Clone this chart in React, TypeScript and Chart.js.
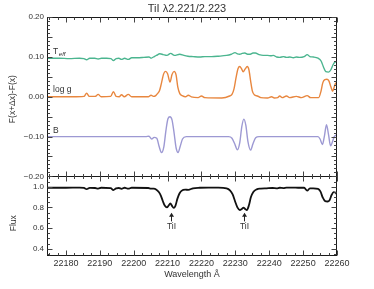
import React, { useEffect, useRef } from "react";
import { Chart, registerables } from "chart.js";
Chart.register(...registerables);

const titleText = "TiI λ2.221/2.223";
const xTitle = "Wavelength Å";
const yTopTitle = "F(x+Δx)-F(x)";
const yBotTitle = "Flux";

const xMin = 22174.4;
const xMax = 22260;
const xTickStep = 10;
const yTopRange = [-0.2, 0.2];
const yTopStep = 0.05;
const yBotRange = [0.33, 1.1];
const yBotStep = 0.2;

const teffWave = [22174.4, 22178, 22181, 22184, 22185.3, 22186.1, 22187, 22188.5, 22189.5, 22190.5, 22192, 22193.3, 22194.0, 22194.8, 22195.6, 22196.4, 22197.3, 22198.4, 22199.4, 22201, 22203, 22204.5, 22205.1, 22205.8, 22206.7, 22207.7, 22208.7, 22209.8, 22210.9, 22212.0, 22213.6, 22214.8, 22216, 22217.5, 22219.5, 22221, 22223, 22225, 22227.4, 22228.8, 22229.9, 22230.6, 22231.3, 22232.0, 22232.8, 22233.6, 22234.4, 22235.2, 22235.9, 22237, 22238.2, 22239.5, 22240.5, 22241.2, 22242.2, 22243.1, 22244.2, 22245.1, 22246.1, 22247.1, 22248.0, 22249.0, 22250.3, 22251.2, 22252.0, 22253, 22254.4, 22255.3, 22256.0, 22256.7, 22257.5, 22258.2, 22258.8, 22259.4, 22260];
const teffVal = [0.097, 0.097, 0.096, 0.097, 0.096, 0.093, 0.097, 0.097, 0.095, 0.097, 0.097, 0.096, 0.091, 0.096, 0.097, 0.094, 0.097, 0.094, 0.098, 0.098, 0.099, 0.100, 0.097, 0.100, 0.104, 0.108, 0.106, 0.104, 0.109, 0.104, 0.107, 0.104, 0.102, 0.101, 0.100, 0.101, 0.101, 0.102, 0.104, 0.107, 0.111, 0.108, 0.107, 0.109, 0.110, 0.107, 0.107, 0.110, 0.110, 0.106, 0.104, 0.104, 0.103, 0.104, 0.100, 0.099, 0.101, 0.099, 0.100, 0.098, 0.100, 0.099, 0.101, 0.106, 0.101, 0.100, 0.097, 0.090, 0.075, 0.063, 0.062, 0.068, 0.080, 0.087, 0.088];

const loggWave = [22174.4, 22182, 22185.3, 22186.1, 22186.9, 22188.6, 22189.5, 22190.4, 22193.2, 22194.0, 22194.8, 22195.7, 22196.4, 22197.2, 22198.4, 22199.4, 22204.3, 22205.1, 22205.8, 22206.5, 22207.0, 22207.6, 22208.2, 22208.8, 22209.4, 22210.0, 22210.7, 22211.3, 22211.9, 22212.5, 22213.0, 22213.6, 22214.3, 22215.3, 22216.1, 22217, 22219, 22220.0, 22221, 22226, 22228.3, 22229.0, 22229.6, 22230.2, 22230.8, 22231.3, 22231.8, 22232.3, 22232.9, 22233.5, 22234.0, 22234.5, 22235.0, 22235.6, 22236.5, 22237.5, 22239.5, 22240.7, 22241.5, 22242.5, 22243.1, 22243.8, 22245.1, 22246, 22248.0, 22249.5, 22251.2, 22252.2, 22254.6, 22255.3, 22255.8, 22256.4, 22257.0, 22257.6, 22258.2, 22258.7, 22259.2, 22259.6, 22260];
const loggVal = [0.000, 0.000, 0.001, 0.009, 0.001, 0.001, 0.006, 0.000, 0.001, 0.013, 0.001, 0.000, 0.005, 0.000, 0.006, 0.000, 0.000, 0.004, 0.001, 0.003, 0.008, 0.015, 0.035, 0.057, 0.064, 0.058, 0.037, 0.056, 0.064, 0.055, 0.025, 0.008, 0.003, 0.000, 0.004, 0.000, -0.002, 0.002, -0.002, -0.003, 0.002, 0.006, 0.020, 0.048, 0.071, 0.076, 0.071, 0.063, 0.070, 0.076, 0.068, 0.040, 0.015, 0.005, 0.002, -0.002, -0.003, 0.000, -0.003, -0.002, 0.002, -0.002, 0.002, -0.002, 0.001, -0.002, 0.003, -0.002, -0.002, 0.015, 0.035, 0.043, 0.044, 0.040, 0.025, 0.014, 0.025, 0.035, 0.028];

const bWave = [22174.4, 22203.5, 22204.5, 22205.3, 22206.0, 22206.8, 22207.5, 22208.2, 22208.9, 22209.5, 22210.1, 22210.7, 22211.3, 22211.9, 22212.5, 22213.1, 22213.7, 22214.4, 22215.5, 22228.0, 22229.0, 22229.8, 22230.6, 22231.3, 22231.9, 22232.5, 22233.1, 22233.7, 22234.5, 22235.2, 22236.0, 22237.0, 22254.4, 22255.0, 22255.7, 22256.3, 22256.9, 22257.5, 22258.1, 22258.7, 22259.2, 22260];
const bVal = [-0.100, -0.100, -0.099, -0.106, -0.102, -0.104, -0.125, -0.140, -0.125, -0.085, -0.055, -0.050, -0.058, -0.090, -0.128, -0.140, -0.125, -0.106, -0.100, -0.100, -0.104, -0.118, -0.133, -0.115, -0.075, -0.056, -0.072, -0.112, -0.134, -0.118, -0.103, -0.100, -0.100, -0.106, -0.120, -0.098, -0.070, -0.095, -0.123, -0.112, -0.100, -0.095];

const fluxWave = [22174.4, 22180, 22184, 22185.3, 22186.1, 22187, 22188.6, 22189.5, 22190.4, 22193.2, 22194.0, 22194.8, 22195.6, 22196.4, 22197.3, 22198.4, 22199.4, 22204.3, 22205.1, 22205.9, 22206.7, 22207.4, 22208.0, 22208.6, 22209.2, 22209.8, 22210.3, 22210.8, 22211.3, 22211.8, 22212.3, 22212.9, 22213.5, 22214.1, 22215.2, 22216.1, 22217.5, 22219.5, 22222, 22225, 22227.4, 22228.4, 22229.2, 22229.9, 22230.6, 22231.3, 22231.9, 22232.4, 22232.9, 22233.4, 22234.0, 22234.6, 22235.3, 22236.3, 22237.5, 22239.2, 22241, 22242.2, 22243.1, 22244.2, 22245.1, 22247, 22248.5, 22250.3, 22251.2, 22252.0, 22253, 22254.4, 22255.1, 22255.8, 22256.5, 22257.2, 22257.8, 22258.4, 22259.0, 22259.5, 22260];
const fluxVal = [0.990, 0.990, 0.992, 0.988, 0.976, 0.989, 0.988, 0.982, 0.990, 0.986, 0.968, 0.985, 0.988, 0.980, 0.990, 0.981, 0.990, 0.988, 0.982, 0.982, 0.972, 0.950, 0.915, 0.860, 0.815, 0.800, 0.818, 0.840, 0.815, 0.795, 0.815, 0.885, 0.935, 0.960, 0.972, 0.970, 0.985, 0.990, 0.992, 0.992, 0.985, 0.965, 0.925, 0.860, 0.800, 0.775, 0.785, 0.798, 0.785, 0.775, 0.820, 0.900, 0.950, 0.975, 0.982, 0.985, 0.988, 0.985, 0.990, 0.987, 0.992, 0.992, 0.990, 0.990, 0.962, 0.985, 0.985, 0.980, 0.955, 0.895, 0.860, 0.857, 0.870, 0.920, 0.948, 0.945, 0.925];

// annotations
const seriesLabelX = 22176.2;
const teffLabelY = 0.114;
const loggLabelY = 0.0175;
const bLabelY = -0.084;
const arrowWave = [22210.9, 22232.6];
const arrowTip = 0.749;
const arrowTail = 0.665;
const arrowLabelY = 0.616;
const arrowLabel = "TiI";

const FONT = "'Liberation Sans', Arial, Helvetica, sans-serif";
const TEXT = "#333";

const toPts = (w: number[], v: number[]) => w.map((x, i) => ({ x, y: v[i] }));

const framePlugin = {
  id: "frame",
  afterDatasetsDraw(chart: any) {
    const { ctx, chartArea: a, scales } = chart;
    const xs = scales.x, yt = scales.yTop, yb = scales.yBot;
    ctx.save();
    ctx.strokeStyle = "#1a1a1a";
    ctx.lineWidth = 1;
    const L = Math.round(a.left) + 0.5;
    const R = Math.round(a.right) - 0.5;
    const T = Math.round(a.top) + 0.5;
    const B = Math.round(a.bottom) - 0.5;
    const M = Math.round(yt.bottom) + 0.5;
    ctx.strokeRect(L, T, R - L, B - T);
    ctx.beginPath();
    ctx.moveTo(L, M);
    ctx.lineTo(R, M);
    ctx.stroke();
    ctx.strokeStyle = "#444";
    ctx.beginPath();
    const xm = 2.5;
    for (let v = Math.ceil(xs.min / xm) * xm; v <= xs.max + 1e-6; v += xm) {
      const px = Math.round(xs.getPixelForValue(v)) + 0.5;
      const major = Math.abs(v / xTickStep - Math.round(v / xTickStep)) < 1e-6;
      const len = major ? 5 : 2.5;
      ctx.moveTo(px, B); ctx.lineTo(px, B - len);
      ctx.moveTo(px, T); ctx.lineTo(px, T + len);
      ctx.moveTo(px, M - len); ctx.lineTo(px, M + len);
    }
    const yTicks = (sc: any, step: number, minor: number) => {
      const n0 = Math.ceil(sc.min / minor - 1e-6);
      const n1 = Math.floor(sc.max / minor + 1e-6);
      for (let n = n0; n <= n1; n++) {
        const v = n * minor;
        const py = Math.round(sc.getPixelForValue(v)) + 0.5;
        const major = Math.abs(v / step - Math.round(v / step)) < 1e-6;
        const len = major ? 5 : 2.5;
        ctx.moveTo(L, py); ctx.lineTo(L + len, py);
        ctx.moveTo(R, py); ctx.lineTo(R - len, py);
      }
    };
    yTicks(yt, yTopStep, 0.01);
    yTicks(yb, yBotStep, 0.05);
    ctx.stroke();
    ctx.restore();
  },
};

const notePlugin = {
  id: "notes",
  afterDatasetsDraw(chart: any) {
    const { ctx, scales } = chart;
    const xs = scales.x, yt = scales.yTop, yb = scales.yBot;
    ctx.save();
    ctx.fillStyle = TEXT;
    ctx.textBaseline = "middle";
    ctx.textAlign = "left";
    const lx = xs.getPixelForValue(seriesLabelX);
    ctx.font = `8.5px ${FONT}`;
    const ty = yt.getPixelForValue(teffLabelY);
    ctx.fillText("T", lx, ty);
    const tw = ctx.measureText("T").width;
    ctx.font = `italic 6px ${FONT}`;
    ctx.fillText("eff", lx + tw + 0.5, ty + 2.5);
    ctx.font = `8.5px ${FONT}`;
    ctx.fillText("log g", lx, yt.getPixelForValue(loggLabelY));
    ctx.fillText("B", lx, yt.getPixelForValue(bLabelY));
    ctx.strokeStyle = "#222";
    ctx.fillStyle = "#222";
    ctx.lineWidth = 1;
    ctx.textAlign = "center";
    ctx.font = `8.5px ${FONT}`;
    arrowWave.forEach((w) => {
      const px = Math.round(xs.getPixelForValue(w)) + 0.5;
      const tip = yb.getPixelForValue(arrowTip);
      const tail = yb.getPixelForValue(arrowTail);
      ctx.beginPath();
      ctx.moveTo(px, tail);
      ctx.lineTo(px, tip + 1);
      ctx.stroke();
      ctx.beginPath();
      ctx.moveTo(px, tip);
      ctx.lineTo(px - 2.5, tip + 4);
      ctx.lineTo(px + 2.5, tip + 4);
      ctx.closePath();
      ctx.fill();
      ctx.fillStyle = TEXT;
      ctx.fillText(arrowLabel, px, yb.getPixelForValue(arrowLabelY));
      ctx.fillStyle = "#222";
    });
    ctx.restore();
  },
};

export default function App() {
  const ref = useRef<HTMLCanvasElement | null>(null);
  useEffect(() => {
    if (!ref.current) return;
    const lineDs = (label: string, data: any[], color: string, axis: string, width: number) => ({
      label,
      data,
      borderColor: color,
      backgroundColor: color,
      borderWidth: width,
      pointRadius: 0,
      cubicInterpolationMode: "monotone" as const,
      yAxisID: axis,
      fill: false,
    });
    const chart = new Chart(ref.current, {
      type: "line",
      data: {
        datasets: [
          lineDs("Teff", toPts(teffWave, teffVal), "#4bb58f", "yTop", 1.4),
          lineDs("log g", toPts(loggWave, loggVal), "#e8873f", "yTop", 1.4),
          lineDs("B", toPts(bWave, bVal), "#9d99d3", "yTop", 1.4),
          lineDs("Flux", toPts(fluxWave, fluxVal), "#111111", "yBot", 1.8),
        ],
      },
      options: {
        animation: false,
        responsive: false,
        devicePixelRatio: 1,
        layout: { padding: 0 },
        plugins: {
          legend: { display: false },
          tooltip: { enabled: false },
          title: {
            display: true,
            text: titleText,
            color: TEXT,
            font: { family: FONT, size: 11, weight: "normal" },
            padding: { top: 2, bottom: 2 },
          },
        },
        scales: {
          x: {
            type: "linear",
            position: "bottom",
            min: xMin,
            max: xMax,
            grid: { display: false, drawTicks: false },
            border: { display: false },
            ticks: {
              stepSize: xTickStep,
              includeBounds: false,
              autoSkip: false,
              maxRotation: 0,
              padding: 2,
              color: TEXT,
              font: { family: FONT, size: 9 },
              callback: (v: any) => String(v),
            },
            title: {
              display: true,
              text: xTitle,
              color: TEXT,
              font: { family: FONT, size: 9 },
              padding: { top: 0, bottom: 8.6 },
            },
            afterFit: (s: any) => { s.height = 33; },
          },
          yBot: {
            type: "linear",
            position: "left",
            stack: "panels",
            stackWeight: 1,
            min: yBotRange[0],
            max: yBotRange[1],
            grid: { display: false, drawTicks: false },
            border: { display: false },
            ticks: {
              stepSize: yBotStep,
              includeBounds: false,
              padding: 3,
              color: TEXT,
              font: { family: FONT, size: 8 },
              callback: (v: any) => Number(v).toFixed(1),
            },
            title: {
              display: true,
              text: yBotTitle + "\u00A0".repeat(6),
              color: TEXT,
              font: { family: FONT, size: 8.5 },
              padding: { top: 9, bottom: 0 },
            },
            afterFit: (s: any) => { s.width = 47; },
          },
          yTop: {
            type: "linear",
            position: "left",
            stack: "panels",
            stackWeight: 2,
            min: yTopRange[0],
            max: yTopRange[1],
            grid: { display: false, drawTicks: false },
            border: { display: false },
            ticks: {
              stepSize: yTopStep,
              includeBounds: false,
              padding: 3,
              color: TEXT,
              font: { family: FONT, size: 8 },
              callback: (v: any) => Number(v).toFixed(2).replace("-", "−"),
            },
            title: {
              display: true,
              text: yTopTitle + "\u00A0".repeat(2),
              color: TEXT,
              font: { family: FONT, size: 8.5 },
              padding: { top: 8, bottom: 0 },
            },
            afterFit: (s: any) => { s.width = 47; },
          },
          yRight: {
            type: "linear",
            position: "right",
            display: true,
            grid: { display: false, drawTicks: false },
            border: { display: false },
            ticks: { display: false },
            afterFit: (s: any) => { s.width = 37; },
          },
        },
      } as any,
      plugins: [framePlugin, notePlugin],
    });
    return () => chart.destroy();
  }, []);
  return (
    <div style={{ position: "fixed", left: 0, top: 0, width: 374, height: 289, background: "#fff" }}>
      <canvas ref={ref} width={374} height={289} style={{ width: 374, height: 289, display: "block" }} />
    </div>
  );
}
